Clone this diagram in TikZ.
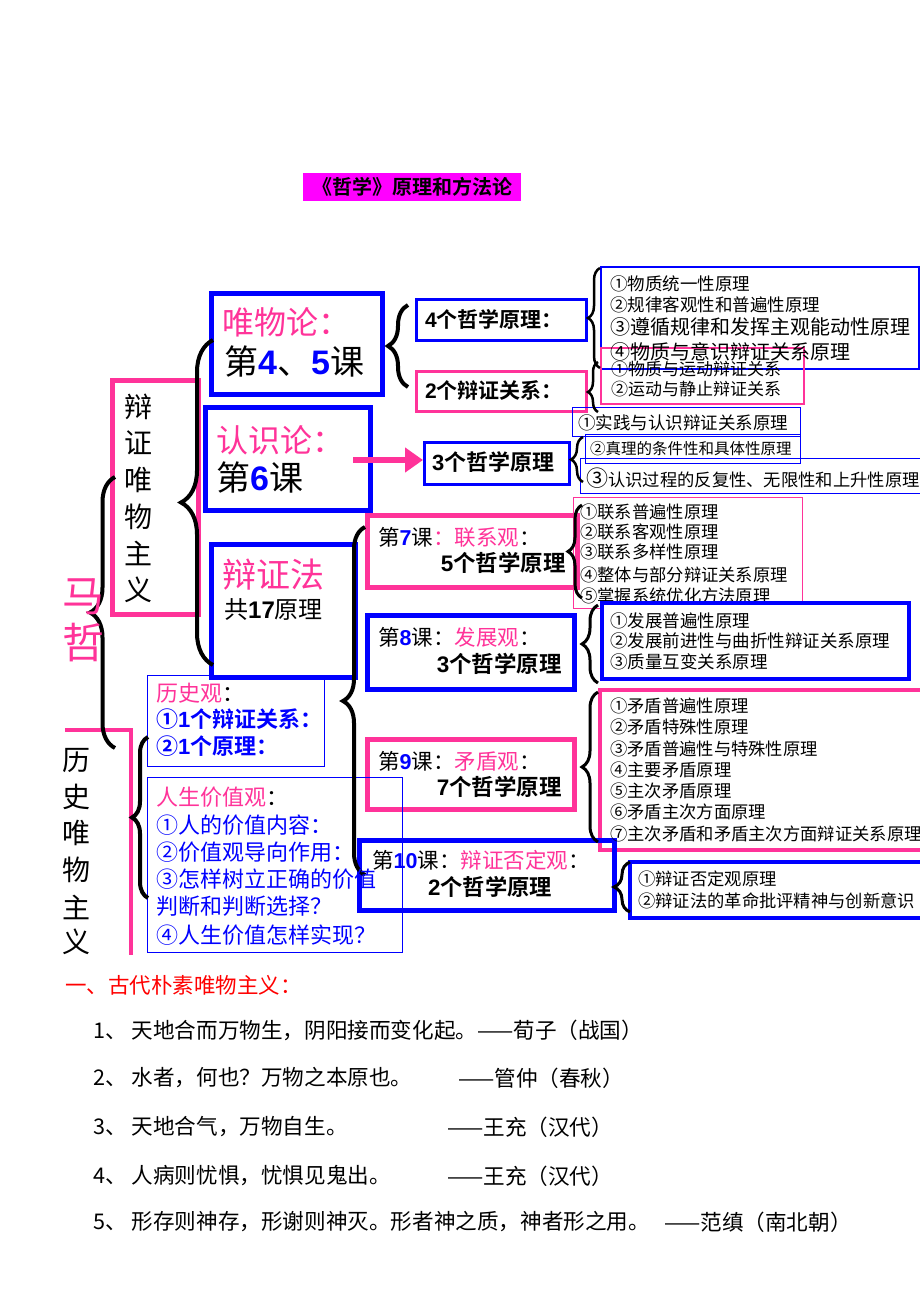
\documentclass[tikz,border=0pt]{standalone}
\usepackage{fontspec}
\setmainfont{Noto Sans CJK SC}[BoldFont={Noto Sans CJK SC Bold}]
\newfontfamily\ar{Liberation Sans}
\usetikzlibrary{decorations.pathreplacing,arrows.meta,calc}
\definecolor{hp}{HTML}{FF3399}
\definecolor{bl}{HTML}{0000FF}
\definecolor{mg}{HTML}{FF00FF}
\definecolor{rd}{HTML}{FF0000}
\newcommand{\fs}[1]{\fontsize{#1}{#1}\selectfont}
\newcommand{\nm}[1]{{\ar\bfseries #1}}
\newcommand{\bn}[1]{\textcolor{bl}{\ar\bfseries #1}}
\newcommand{\bx}[8][]{\node[draw=#3,line width=#4,inner sep=0,anchor=north west,minimum width=#7pt,minimum height=#8pt,#1] (#2) at (#5,-#6) {};}
\tikzset{
  t/.style={anchor=west,inner sep=0},
  te/.style={anchor=east,inner sep=0},
  tc/.style={anchor=center,inner sep=0},
  brc/.style={decorate,decoration={brace,amplitude=#1},line width=3pt,black},
  brc/.default=12pt
}
\begin{document}
\begin{tikzpicture}[x=1pt,y=1pt]
\useasboundingbox (0,0) rectangle (920,-1302);
\fill[white] (0,0) rectangle (920,-1302);
% title
\node[fill=mg,minimum width=218pt,minimum height=28pt,anchor=north west,inner sep=0] (title) at (303,-173) {\fs{20}\bfseries 《哲学》原理和方法论};
% boxes
\bx{wul}{bl}{4.5pt}{209}{291}{171}{101}
\bx{p4}{bl}{3pt}{415}{298}{170}{41}
\bx{r2}{hp}{3pt}{415}{370}{170}{40}
\bx{L1}{bl}{2pt}{600}{266}{318}{102}
\bx{L2}{hp}{1.5pt}{600}{347}{203}{56}
\bx{rsl}{bl}{4.5pt}{203}{405}{165}{103}
\bx{r3}{bl}{3pt}{423}{441}{145}{42}
\bx{R1}{bl}{1pt}{572}{407}{228}{29}
\bx{R2}{bl}{1pt}{585}{434}{215}{29}
\bx{R3}{bl}{1pt}{580}{458}{345}{35}
\bx{bzf}{bl}{4.5pt}{209}{542}{144}{133}
\bx{k7}{hp}{5pt}{365}{513}{210}{72}
\bx{K7}{hp}{1pt}{573}{497}{229}{111}
\bx{k8}{bl}{4.5pt}{365}{613}{207}{74}
\bx{k9}{hp}{5pt}{365}{737}{207}{70}
\bx{K9}{hp}{4pt}{598}{688}{327}{160}
\bx{k10}{bl}{5pt}{357}{838}{255}{70}
\bx{K10}{bl}{4pt}{628}{860}{297}{56}
\bx{bw}{hp}{5pt}{110}{378}{86}{234}
\bx{ls}{bl}{1pt}{147}{675}{177}{91}
\bx{rs}{bl}{1pt}{147}{777}{255}{175}
\draw[hp,line width=4.5pt] (65,-730) -- (131,-730) -- (131,-955);
% braces
\draw[brc=20pt,line width=4pt] (408,-387) -- (408,-305);
\draw[brc=12pt,line width=2.5pt] (600,-368) -- (600,-268);
\draw[brc=10pt,line width=2.5pt,decoration={aspect=0.4}] (598,-412) -- (598,-362);
\draw[brc=12pt,line width=2.5pt] (583,-482) -- (583,-437);
\draw[brc=32pt,line width=4pt] (213,-665) -- (213,-340);
\draw[brc=25pt,line width=4pt] (115,-748) -- (115,-477);
\draw[brc=22pt,line width=4pt] (365,-875) -- (365,-527);
\draw[brc=14pt] (582,-598) -- (582,-505);
\draw[brc=16pt] (598,-683) -- (598,-605);
\draw[brc=16pt] (598,-842) -- (598,-692);
\draw[brc=16pt] (630,-912) -- (630,-862);
\draw[brc=16pt,line width=4pt] (148,-898) -- (148,-737);
% arrow
\coordinate (as) at (353,-460);
\draw[hp,line width=6pt,-{Triangle[length=18pt,width=24pt]}] (as) -- (as -| r3.west);
% 唯物论
\node[t] (wul1) at (222,-322) {\fs{32}\textcolor{hp}{唯物论：}};
\node[t] (wul2) at (224,-362) {\fs{34}第\bn{4}、\bn{5}课};
\node[t] (p4t) at (425,-319) {\fs{21}\bfseries\nm{4}个哲学原理：};
\node[t] (r2t) at (425,-390) {\fs{21}\bfseries\nm{2}个辩证关系：};
\node[t] (L1a) at (610,-284) {\fs{17.5}①物质统一性原理};
\node[t] (L1b) at (610,-305) {\fs{17.5}②规律客观性和普遍性原理};
\node[t] (L1c) at (610,-327) {\fs{20}③遵循规律和发挥主观能动性原理};
\node[t] (L1d) at (610,-352) {\fs{20}④物质与意识辩证关系原理};
\node[t] (L2a) at (611,-369) {\fs{17}①物质与运动辩证关系};
\node[t] (L2b) at (611,-389) {\fs{17}②运动与静止辩证关系};
% 认识论
\node[t] (rsl1) at (216,-440) {\fs{32}\textcolor{hp}{认识论：}};
\node[t] (rsl2) at (216,-478) {\fs{34}第\bn{6}课};
\node[t] (r3t) at (432,-462) {\fs{22}\bfseries\nm{3}个哲学原理};
\node[t] (R1t) at (578,-423) {\fs{17.5}①实践与认识辩证关系原理};
\node[t] (R2t) at (590,-449) {\fs{15.5}②真理的条件性和具体性原理};
\node[t] (R3t) at (586,-478) {\fs{17.3}{\fs{22}③}认识过程的反复性、无限性和上升性原理};
% 辩证法
\node[t] (bzf1) at (222,-575) {\fs{34}\textcolor{hp}{辩证法}};
\node[t] (bzf2) at (224,-609) {\fs{24}共\nm{17}原理};
% lesson 7
\node[t] (k7a) at (378,-537) {\fs{21.5}第\bn{7}课\textcolor{hp}{：联系观}：};
\node[te] (k7b) at (566,-563) {\fs{22.5}\bfseries\nm{5}个哲学原理};
\node[t] (K7a) at (580,-512) {\fs{17.3}①联系普遍性原理};
\node[t] (K7b) at (580,-532) {\fs{17.3}②联系客观性原理};
\node[t] (K7c) at (580,-552) {\fs{17.3}③联系多样性原理};
\node[t] (K7d) at (580,-575) {\fs{17.3}④整体与部分辩证关系原理};
\node[t] (K7e) at (580,-596) {\fs{17.3}⑤掌握系统优化方法原理};
\bx[fill=white]{K8}{bl}{4pt}{600}{601}{307}{76}
% lesson 8
\node[t] (k8a) at (378,-637) {\fs{21.5}第\bn{8}课：\textcolor{hp}{发展观}：};
\node[te] (k8b) at (562,-664) {\fs{22.5}\bfseries\nm{3}个哲学原理};
\node[t] (K8a) at (610,-621) {\fs{17.5}①发展普遍性原理};
\node[t] (K8b) at (610,-641) {\fs{17.5}②发展前进性与曲折性辩证关系原理};
\node[t] (K8c) at (610,-662) {\fs{17.5}③质量互变关系原理};
% lesson 9
\node[t] (k9a) at (378,-761) {\fs{21.5}第\bn{9}课：\textcolor{hp}{矛盾观}：};
\node[te] (k9b) at (562,-787) {\fs{22.5}\bfseries\nm{7}个哲学原理};
\node[t] (K9a) at (610,-706) {\fs{17.3}①矛盾普遍性原理};
\node[t] (K9b) at (610,-727) {\fs{17.3}②矛盾特殊性原理};
\node[t] (K9c) at (610,-749) {\fs{17.3}③矛盾普遍性与特殊性原理};
\node[t] (K9d) at (610,-770) {\fs{17.3}④主要矛盾原理};
\node[t] (K9e) at (610,-791) {\fs{17.3}⑤主次矛盾原理};
\node[t] (K9f) at (610,-812) {\fs{17.3}⑥矛盾主次方面原理};
\node[t] (K9g) at (610,-834) {\fs{17.3}⑦主次矛盾和矛盾主次方面辩证关系原理};
% lesson 10
\node[t] (k10a) at (372,-860) {\fs{21.5}第\bn{10}课：\textcolor{hp}{辩证否定观}：};
\node[t] (k10b) at (428,-887) {\fs{22.3}\bfseries\nm{2}个哲学原理};
\node[t] (K10a) at (638,-879) {\fs{17.3}①辩证否定观原理};
\node[t] (K10b) at (638,-901) {\fs{17.3}②辩证法的革命批评精神与创新意识};
% vertical labels
\foreach \c/\y [count=\i] in {辩/407,证/443,唯/480,物/517,主/553,义/590}
  \node[tc] (bw\i) at (138,-\y) {\fs{28}\c};
\foreach \c/\y [count=\i] in {历/760,史/797,唯/833,物/870,主/907,义/942}
  \node[tc] (ls\i) at (76,-\y) {\fs{28}\c};
\node[tc] (ma) at (83,-597) {\fs{42}\textcolor{hp}{马}};
\node[tc] (zhe) at (83,-643) {\fs{42}\textcolor{hp}{哲}};
% 历史观
\node[t] (ls1) at (156,-693) {\fs{22}\textcolor{hp}{历史观}：};
\node[t] (ls2) at (156,-719) {\fs{22}\color{bl}\bfseries ①\nm{1}个辩证关系：};
\node[t] (ls3) at (156,-746) {\fs{22}\color{bl}\bfseries ②\nm{1}个原理：};
\node[t] (rs1) at (156,-797) {\fs{22}\textcolor{hp}{人生价值观}：};
\node[t] (rs2) at (156,-825) {\fs{22}\color{bl}①人的价值内容：};
\node[t] (rs3) at (156,-852) {\fs{22}\color{bl}②价值观导向作用：};
\node[t] (rs4) at (156,-879) {\fs{22}\color{bl}③怎样树立正确的价值};
\node[t] (rs5) at (156,-906) {\fs{22}\color{bl}判断和判断选择？};
\node[t] (rs6) at (156,-935) {\fs{22}\color{bl}④人生价值怎样实现？};
% bottom text
\node[t] (h1) at (65,-985) {\fs{21.5}\color{rd}一、古代朴素唯物主义：};
\node[t] (q1) at (93,-1030) {\fs{21.6}1、 天地合而万物生，阴阳接而变化起。——荀子（战国）};
\node[t] (q2) at (93,-1078) {\fs{21.6}2、 水者，何也？万物之本原也。};
\node[t] (a2) at (458,-1078) {\fs{21.6}——管仲（春秋）};
\node[t] (q3) at (93,-1127) {\fs{21.6}3、 天地合气，万物自生。};
\node[t] (a3) at (447,-1127) {\fs{21.6}——王充（汉代）};
\node[t] (q4) at (93,-1176) {\fs{21.6}4、 人病则忧惧，忧惧见鬼出。};
\node[t] (a4) at (447,-1176) {\fs{21.6}——王充（汉代）};
\node[t] (q5) at (93,-1222) {\fs{21.6}5、 形存则神存，形谢则神灭。形者神之质，神者形之用。};
\node[t] (a5) at (664,-1222) {\fs{21.6}——范缜（南北朝）};
\end{tikzpicture}
\end{document}
